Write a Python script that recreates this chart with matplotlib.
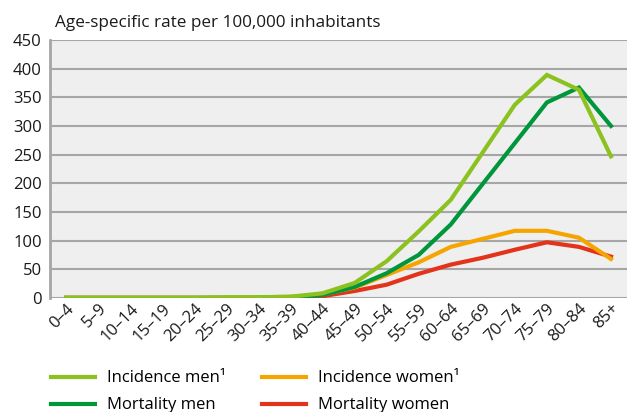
import matplotlib
matplotlib.use("Agg")
import matplotlib.pyplot as plt
from matplotlib.lines import Line2D

ages = ["0–4", "5–9", "10–14", "15–19", "20–24", "25–29", "30–34", "35–39",
        "40–44", "45–49", "50–54", "55–59", "60–64", "65–69", "70–74",
        "75–79", "80–84", "85+"]

inc_men = [0, 0, 0, 0, 0, 1, 1, 2, 8, 26, 64, 116, 171, 254, 337, 389, 363, 247]
mort_men = [0, 0, 0, 0, 0, 0, 0, 1, 5, 19, 43, 75, 128, 199, 270, 341, 367, 300]
inc_women = [0, 0, 0, 0, 0, 0, 1, 2, 6, 18, 40, 62, 89, 103, 117, 117, 105, 68]
mort_women = [0, 0, 0, 0, 0, 0, 0, 1, 3, 12, 23, 42, 58, 70, 84, 97, 89, 72]

series = [
    ("Incidence men¹", inc_men, "#8cc21f"),
    ("Mortality men", mort_men, "#00963c"),
    ("Incidence women¹", inc_women, "#f6a500"),
    ("Mortality women", mort_women, "#e3331a"),
]

plt.rcParams['font.family'] = ['Open Sans', 'DejaVu Sans']

fig = plt.figure(figsize=(6.27, 4.12), dpi=100)
ax = fig.add_axes([0.08, 0.277, 0.92, 0.626])
ax.set_facecolor("#efefef")

x = range(len(ages))
# draw order: women first, men on top
for name, vals, col in [series[3], series[2], series[1], series[0]]:
    ax.plot(x, vals, color=col, lw=3, solid_joinstyle="miter", zorder=3)

ax.set_xlim(-0.5, len(ages) - 0.5)
ax.set_ylim(0, 450)
ax.set_yticks(range(0, 451, 50))
ax.yaxis.grid(True, color="#a6a6a6", lw=1.5, zorder=1)
ax.set_axisbelow(True)
for s in ["top", "right", "bottom"]:
    ax.spines[s].set_visible(False)
ax.spines["left"].set_color("#a6a6a6")
ax.spines["left"].set_linewidth(2)
ax.tick_params(axis="y", length=0, labelsize=12, colors="#1a1a1a", pad=6)
ax.tick_params(axis="x", length=0, labelsize=12, colors="#1a1a1a", pad=2)
ax.set_xticks(list(x))
ax.set_xticklabels(ages, rotation=45, ha="right", va="top", rotation_mode="anchor")

fig.text(0.088, 0.945, "Age-specific rate per 100,000 inhabitants", fontsize=12.3,
         color="#1a1a1a", va="center")

# ncol=2 fills column by column
handles = [Line2D([], [], color=c, lw=3) for _, _, c in series]
labels = [n for n, _, _ in series]
fig.legend(handles, labels, ncol=2, loc="upper left", bbox_to_anchor=(0.081, 0.101),
           frameon=False, fontsize=12, handlelength=2.65, columnspacing=2.2,
           labelspacing=0.66, handletextpad=0.7, borderpad=0, borderaxespad=0)

fig.savefig("out.png", dpi=100, facecolor="white")
